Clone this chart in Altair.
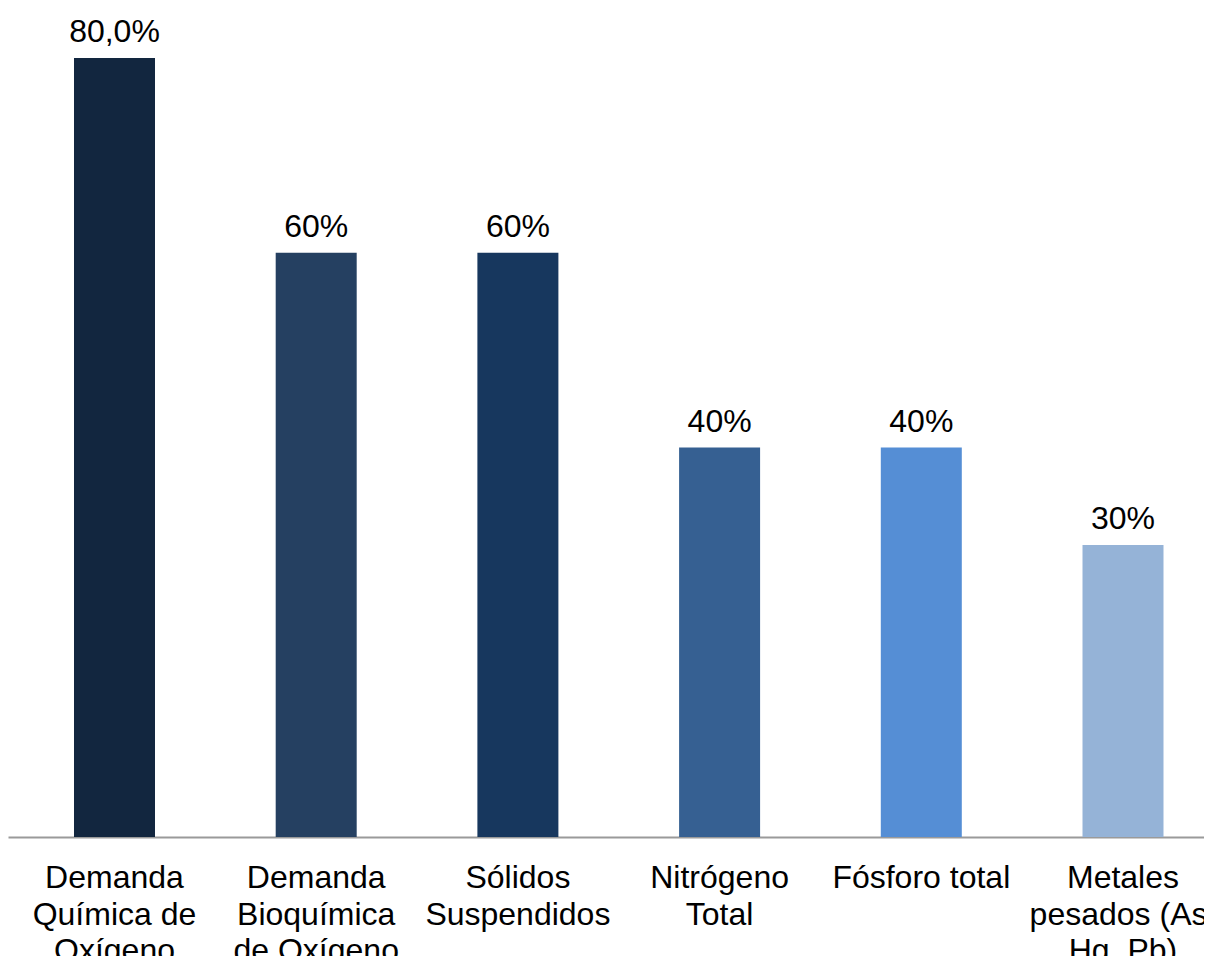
import altair as alt
import pandas as pd

categories = [
    "Demanda\nQuímica de\nOxígeno",
    "Demanda\nBioquímica\nde Oxígeno",
    "Sólidos\nSuspendidos",
    "Nitrógeno\nTotal",
    "Fósforo total",
    "Metales\npesados (As,\nHg, Pb)",
]
values = [80, 60, 60, 40, 40, 30]
value_labels = ["80,0%", "60%", "60%", "40%", "40%", "30%"]
colors = ["#12263F", "#254061", "#17375E", "#366092", "#558ED5", "#95B3D7"]
order = list(range(len(categories)))

df = pd.DataFrame({
    "idx": order,
    "cat": categories,
    "value": values,
    "label": value_labels,
    "color": colors,
})

FONT = "Liberation Sans"

x = alt.X(
    "idx:Q",
    scale=alt.Scale(domain=[-0.528, 5.4016], nice=False, zero=False, padding=0),
    axis=alt.Axis(
        domain=True, domainColor="#9A9A9A", domainWidth=2,
        ticks=False, labels=False, grid=False, title=None,
    ),
)
yscale = alt.Scale(domain=[0, 80], nice=False, padding=0)

base = alt.Chart(df)

bars = base.mark_bar(size=81).encode(
    x=x,
    y=alt.Y("value:Q", scale=yscale, axis=None),
    color=alt.Color("color:N", scale=None),
)

vlabels = base.mark_text(
    font=FONT, fontSize=32, dy=-16, baseline="alphabetic", color="#000000"
).encode(
    x=x,
    y=alt.Y("value:Q", scale=yscale, axis=None),
    text="label:N",
)

clabels = base.mark_text(
    font=FONT, fontSize=32, dy=51, baseline="alphabetic", lineBreak="\n",
    lineHeight=36.5, color="#000000",
).encode(
    x=x,
    y=alt.datum(0, scale=yscale),
    text="cat:N",
)

chart = (
    alt.layer(bars, vlabels, clabels)
    .properties(
        width=1196,
        height=779,
        autosize=alt.AutoSizeParams(type="none"),
        padding={"left": 0, "top": 50, "right": 0, "bottom": 119},
    )
    .configure_view(stroke=None)
)

chart.save("out.html", embed_options={"renderer": "svg", "actions": False})
